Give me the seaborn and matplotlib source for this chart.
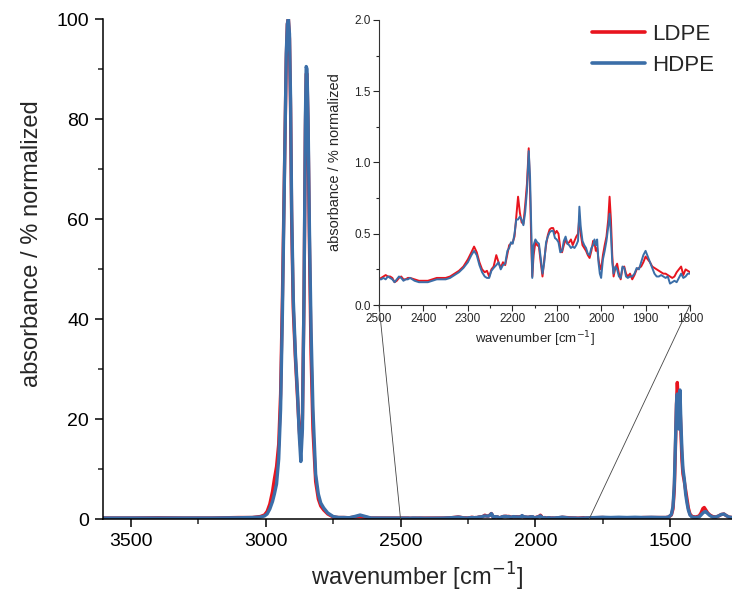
import matplotlib
matplotlib.use("Agg")
import matplotlib.pyplot as plt
from matplotlib.patches import ConnectionPatch
from matplotlib.ticker import MultipleLocator
import pandas as pd
import seaborn as sns

# --- data ------------------------------------------------------------------
# high wavenumber region (C-H stretch)
wn_high = [3610, 3500, 3400, 3300, 3200, 3100, 3050, 3020, 3005, 2995, 2985,
           2975, 2968, 2960, 2952, 2945, 2938, 2930, 2924, 2920, 2916, 2912,
           2908, 2904, 2898, 2890, 2882, 2876, 2870, 2864, 2858, 2853, 2850,
           2847, 2843, 2838, 2832, 2825, 2815, 2805, 2796, 2785, 2770, 2750,
           2730, 2710, 2690, 2670, 2650, 2630, 2610, 2580, 2550, 2520]
ldpe_high = [0.2, 0.2, 0.25, 0.2, 0.2, 0.3, 0.3, 0.5, 0.8, 1.5, 3.0,
             5.5, 8.0, 10.5, 15, 25, 45, 72, 92, 99, 100, 96,
             82, 60, 42, 32, 24, 18, 14, 20, 45, 78, 89,
             89, 78, 55, 33, 18, 7.5, 4.0, 2.6, 1.8, 1.0, 0.4,
             0.3, 0.3, 0.25, 0.4, 0.5, 0.35, 0.2, 0.2, 0.2, 0.2]
hdpe_high = [0.2, 0.2, 0.2, 0.2, 0.2, 0.25, 0.3, 0.4, 0.6, 1.0, 2.0,
             3.5, 5.0, 7.0, 12, 22, 42, 72, 93, 99, 100, 97,
             84, 62, 44, 33, 25, 17, 11.5, 18, 45, 80, 90.5,
             90, 80, 58, 38, 22, 9.0, 5.0, 3.2, 2.2, 1.2, 0.5,
             0.3, 0.3, 0.25, 0.5, 0.8, 0.5, 0.2, 0.2, 0.2, 0.2]

# 2500 - 1800 region (shown in the inset)
wn_mid = [2500, 2495, 2490, 2485, 2480, 2475, 2470, 2465, 2460, 2455,
          2450, 2445, 2440, 2435, 2430, 2420, 2410, 2400, 2390, 2380,
          2370, 2360, 2350, 2340, 2330, 2320, 2310, 2300, 2292, 2286,
          2280, 2274, 2268, 2262, 2257, 2252, 2247, 2242, 2236, 2231,
          2226, 2221, 2216, 2211, 2207, 2203, 2199, 2195, 2191, 2187,
          2183, 2179, 2175, 2171, 2167, 2163, 2160, 2157, 2155, 2152,
          2148, 2144, 2140, 2136, 2132, 2128, 2124, 2120, 2116, 2112,
          2108, 2104, 2100, 2096, 2092, 2088, 2084, 2080, 2076, 2072,
          2068, 2064, 2060, 2056, 2052, 2049, 2046, 2042, 2038, 2034,
          2030, 2026, 2022, 2018, 2015, 2012, 2009, 2006, 2003, 2000,
          1996, 1992, 1988, 1984, 1981, 1978, 1975, 1972, 1968, 1964,
          1960, 1956, 1952, 1948, 1944, 1940, 1935, 1930, 1925, 1920,
          1915, 1910, 1905, 1900, 1895, 1890, 1885, 1880, 1875, 1870,
          1865, 1860, 1855, 1850, 1845, 1840, 1835, 1830, 1825, 1820,
          1815, 1810, 1805, 1800]
ldpe_mid = [0.18, 0.19, 0.20, 0.21, 0.20, 0.20, 0.19, 0.16, 0.17, 0.19,
            0.20, 0.18, 0.18, 0.19, 0.19, 0.18, 0.17, 0.17, 0.17, 0.18,
            0.19, 0.19, 0.19, 0.20, 0.22, 0.24, 0.27, 0.32, 0.37, 0.41,
            0.37, 0.30, 0.25, 0.23, 0.24, 0.20, 0.25, 0.27, 0.35, 0.30,
            0.26, 0.30, 0.28, 0.36, 0.42, 0.43, 0.44, 0.48, 0.62, 0.76,
            0.65, 0.58, 0.57, 0.70, 0.85, 1.10, 0.80, 0.40, 0.20, 0.35,
            0.44, 0.42, 0.41, 0.30, 0.20, 0.32, 0.42, 0.49, 0.53, 0.54,
            0.54, 0.50, 0.52, 0.50, 0.40, 0.37, 0.42, 0.46, 0.43, 0.44,
            0.46, 0.42, 0.45, 0.48, 0.50, 0.62, 0.50, 0.42, 0.40, 0.38,
            0.35, 0.33, 0.38, 0.45, 0.44, 0.38, 0.40, 0.32, 0.27, 0.25,
            0.35, 0.42, 0.48, 0.60, 0.76, 0.60, 0.35, 0.20, 0.26, 0.29,
            0.22, 0.18, 0.26, 0.27, 0.22, 0.20, 0.22, 0.18, 0.21, 0.25,
            0.26, 0.27, 0.30, 0.34, 0.32, 0.30, 0.27, 0.26, 0.25, 0.24,
            0.23, 0.22, 0.22, 0.21, 0.20, 0.19, 0.20, 0.23, 0.25, 0.27,
            0.21, 0.25, 0.24, 0.23]
hdpe_mid = [0.18, 0.18, 0.19, 0.18, 0.20, 0.19, 0.18, 0.16, 0.18, 0.20,
            0.19, 0.17, 0.18, 0.18, 0.19, 0.17, 0.16, 0.16, 0.16, 0.17,
            0.18, 0.18, 0.18, 0.19, 0.21, 0.23, 0.26, 0.30, 0.35, 0.38,
            0.35, 0.28, 0.23, 0.20, 0.19, 0.19, 0.24, 0.26, 0.28, 0.30,
            0.25, 0.28, 0.29, 0.38, 0.40, 0.44, 0.43, 0.50, 0.60, 0.60,
            0.62, 0.60, 0.56, 0.65, 0.80, 1.08, 0.90, 0.50, 0.19, 0.42,
            0.46, 0.44, 0.43, 0.33, 0.22, 0.30, 0.44, 0.48, 0.51, 0.52,
            0.52, 0.47, 0.46, 0.44, 0.37, 0.38, 0.45, 0.48, 0.43, 0.42,
            0.40, 0.41, 0.40, 0.42, 0.45, 0.69, 0.55, 0.45, 0.42, 0.40,
            0.36, 0.35, 0.40, 0.42, 0.46, 0.42, 0.46, 0.30, 0.22, 0.19,
            0.32, 0.38, 0.45, 0.55, 0.64, 0.50, 0.30, 0.22, 0.27, 0.25,
            0.20, 0.19, 0.27, 0.26, 0.20, 0.19, 0.20, 0.20, 0.22, 0.26,
            0.25, 0.30, 0.35, 0.38, 0.34, 0.30, 0.26, 0.22, 0.20, 0.20,
            0.21, 0.20, 0.19, 0.20, 0.15, 0.16, 0.17, 0.16, 0.19, 0.22,
            0.19, 0.20, 0.22, 0.22]

# low wavenumber region (CH2 bending)
wn_low = [1780, 1750, 1720, 1690, 1660, 1630, 1600, 1570, 1540, 1515,
          1505, 1495, 1489, 1484, 1480, 1476, 1473, 1470, 1467, 1463,
          1460, 1456, 1452, 1447, 1442, 1437, 1432, 1426, 1418, 1405,
          1392, 1385, 1378, 1373, 1367, 1360, 1352, 1342, 1330, 1320,
          1310, 1300, 1292, 1282, 1270]
ldpe_low = [0.25, 0.3, 0.2, 0.15, 0.2, 0.15, 0.3, 0.3, 0.3, 0.3,
            0.4, 0.8, 2.0, 6.0, 14, 23, 27.3, 24, 21, 23,
            18, 12, 9.0, 7.5, 5.8, 4.0, 2.2, 1.0, 0.5, 0.4,
            0.6, 1.2, 2.1, 2.3, 1.8, 1.2, 0.8, 0.5, 0.4, 0.6,
            0.9, 1.0, 0.7, 0.4, 0.3]
hdpe_low = [0.3, 0.35, 0.3, 0.35, 0.3, 0.35, 0.3, 0.35, 0.3, 0.3,
            0.4, 0.9, 2.5, 7.0, 15, 23, 25, 20, 18, 25.8,
            20, 14, 10, 8.0, 5.0, 3.2, 1.8, 0.8, 0.4, 0.3,
            0.4, 0.8, 1.2, 1.4, 1.5, 1.1, 0.7, 0.4, 0.4, 0.6,
            0.9, 1.0, 0.7, 0.4, 0.3]

samples = ["LDPE", "HDPE"]
colors = {"LDPE": "#e8141e", "HDPE": "#3b6ea8"}

# --- long-format table ---------------------------------------------------
wn_all = wn_high + wn_mid + wn_low
ldpe_all = ldpe_high + ldpe_mid + ldpe_low
hdpe_all = hdpe_high + hdpe_mid + hdpe_low
df = pd.concat([
    pd.DataFrame({"wavenumber": wn_all, "absorbance": ldpe_all, "sample": "LDPE"}),
    pd.DataFrame({"wavenumber": wn_all, "absorbance": hdpe_all, "sample": "HDPE"}),
])
df_mid = pd.concat([
    pd.DataFrame({"wavenumber": wn_mid, "absorbance": ldpe_mid, "sample": "LDPE"}),
    pd.DataFrame({"wavenumber": wn_mid, "absorbance": hdpe_mid, "sample": "HDPE"}),
])

sns.set_style("ticks")
plt.rcParams["font.family"] = ["Liberation Sans", "DejaVu Sans"]
plt.rcParams["axes.linewidth"] = 1.1

fig = plt.figure(figsize=(7.32, 5.95), dpi=100)
W, H = 732, 595

# main axes
ax = fig.add_axes([103 / W, 1 - 519 / H, 1 - 103 / W, (519 - 19) / H])
sns.lineplot(data=df, x="wavenumber", y="absorbance", hue="sample",
             hue_order=samples, palette=colors, estimator=None, sort=False,
             linewidth=2.4, legend=False, ax=ax)
ax.set_xlim(3604, 1270)
ax.set_ylim(0, 100)
ax.xaxis.set_major_locator(MultipleLocator(500))
ax.xaxis.set_minor_locator(MultipleLocator(250))
ax.yaxis.set_major_locator(MultipleLocator(20))
ax.yaxis.set_minor_locator(MultipleLocator(10))
ax.tick_params(which="major", length=6, width=1.1, labelsize=14, pad=4,
               colors="black")
ax.tick_params(which="minor", length=3.5, width=1.1)
ax.set_xlabel("wavenumber [cm$^{-1}$]", fontsize=17, labelpad=8)
ax.set_ylabel("absorbance / % normalized", fontsize=17)
ax.yaxis.set_label_coords(-0.095, 0.55)
sns.despine(ax=ax)
for s in ("left", "bottom"):
    ax.spines[s].set_color("black")

# inset
axin = fig.add_axes([379 / W, 1 - 305 / H, (690 - 379) / W, (305 - 20) / H])
sns.lineplot(data=df_mid, x="wavenumber", y="absorbance", hue="sample",
             hue_order=samples, palette=colors, estimator=None, sort=False,
             linewidth=1.4, legend=False, ax=axin)
axin.set_xlim(2500, 1800)
axin.set_ylim(0, 2.0)
axin.xaxis.set_major_locator(MultipleLocator(100))
axin.xaxis.set_minor_locator(MultipleLocator(50))
axin.yaxis.set_major_locator(MultipleLocator(0.5))
axin.yaxis.set_minor_locator(MultipleLocator(0.25))
axin.tick_params(which="major", length=4, width=0.8, labelsize=8.5, pad=2)
axin.tick_params(which="minor", length=2.5, width=0.8)
axin.set_xlabel("wavenumber [cm$^{-1}$]", fontsize=9.5, labelpad=3)
axin.set_ylabel("absorbance / % normalized", fontsize=10.5, labelpad=9)
axin.set_facecolor("none")
sns.despine(ax=axin)
for s in ("left", "bottom"):
    axin.spines[s].set_linewidth(0.8)
    axin.spines[s].set_color("#333333")

# lines linking the inset to its range on the main axis
for x0 in (2500, 1800):
    con = ConnectionPatch(xyA=(x0, 0), coordsA=axin.transData,
                          xyB=(x0, 0), coordsB=ax.transData,
                          color="#444444", linewidth=0.6)
    fig.add_artist(con)

# legend
handles = [plt.Line2D([], [], color=colors[s], linewidth=2.6) for s in samples]
fig.legend(handles, samples, loc="upper left",
           bbox_to_anchor=(592 / W, 1 - 24 / H), frameon=False, fontsize=16,
           handlelength=2.4, handletextpad=0.3, labelspacing=0.45,
           borderpad=0, borderaxespad=0)

fig.savefig("out.png", dpi=100, facecolor="white")
